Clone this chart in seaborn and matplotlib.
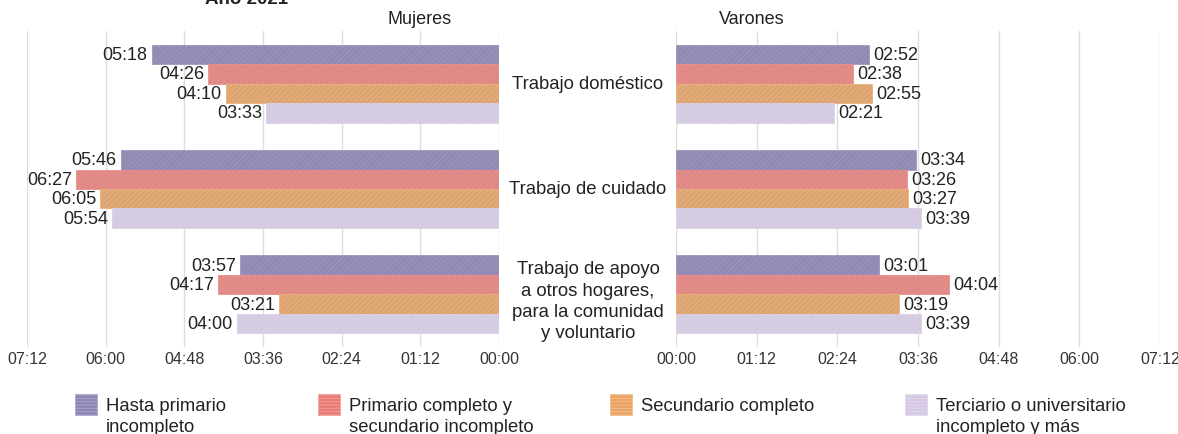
import matplotlib
matplotlib.use("Agg")
import matplotlib.pyplot as plt
from matplotlib.patches import Rectangle
import matplotlib.colors as mcolors
import pandas as pd
import seaborn as sns

# --- data -------------------------------------------------------------
categorias = ["Trabajo doméstico", "Trabajo de cuidado",
              "Trabajo de apoyo\na otros hogares,\npara la comunidad\ny voluntario"]
niveles = ["Hasta primario\nincompleto",
           "Primario completo y\nsecundario incompleto",
           "Secundario completo",
           "Terciario o universitario\nincompleto y más"]
# hh:mm per category, one list per education level
mujeres = {
    niveles[0]: ["05:18", "05:46", "03:57"],
    niveles[1]: ["04:26", "06:27", "04:17"],
    niveles[2]: ["04:10", "06:05", "03:21"],
    niveles[3]: ["03:33", "05:54", "04:00"],
}
varones = {
    niveles[0]: ["02:52", "03:34", "03:01"],
    niveles[1]: ["02:38", "03:26", "04:04"],
    niveles[2]: ["02:55", "03:27", "03:19"],
    niveles[3]: ["02:21", "03:39", "03:39"],
}
colores = ["#8e84b6", "#ec7b76", "#eba462", "#d4c8e4"]
tick_min = [0, 72, 144, 216, 288, 360, 432]


def a_minutos(s):
    h, m = s.split(":")
    return int(h) * 60 + int(m)


def a_hhmm(v):
    v = int(round(v))
    return f"{v // 60:02d}:{v % 60:02d}"


def tabla(d):
    filas = []
    for nivel, vals in d.items():
        for cat, v in zip(categorias, vals):
            filas.append({"categoria": cat, "nivel": nivel,
                          "minutos": a_minutos(v), "texto": v})
    return pd.DataFrame(filas)


df_m = tabla(mujeres)
df_v = tabla(varones)

# --- figure -----------------------------------------------------------
sns.set_style("whitegrid")
plt.rcParams["font.family"] = ["Liberation Sans", "DejaVu Sans"]
plt.rcParams["hatch.linewidth"] = 0.6

W, H = 1178, 435
fig = plt.figure(figsize=(W / 100, H / 100), dpi=100)
axL = fig.add_axes([27 / W, 1 - 348 / H, (499 - 27) / W, 316 / H])
axR = fig.add_axes([676 / W, 1 - 348 / H, (1160 - 676) / W, 316 / H])

pal = dict(zip(niveles, colores))


def lighter(c, f=0.25):
    r, g, b = mcolors.to_rgb(c)
    return (r + (1 - r) * f, g + (1 - g) * f, b + (1 - b) * f)


TXT = "#222222"
for ax, df, lim in ((axL, df_m, (432, 0)), (axR, df_v, (0, 432))):
    sns.barplot(data=df, y="categoria", x="minutos", hue="nivel",
                order=categorias, hue_order=niveles, palette=pal,
                orient="h", width=0.74, legend=False, ax=ax)
    ax.set_xlim(*lim)
    ax.set_ylim(2.5, -0.5)
    for cont, nivel, col in zip(ax.containers, niveles, colores):
        for p in cont:
            p.set_hatch("//////")
            p.set_edgecolor(lighter(col, 0.15))
            p.set_linewidth(0.6)
        textos = df[df.nivel == nivel].set_index("categoria").loc[categorias, "texto"]
        ax.bar_label(cont, labels=list(textos), padding=3, fontsize=13,
                     color=TXT)
    ax.set_xticks(tick_min)
    ax.set_xticklabels([a_hhmm(t) for t in tick_min], fontsize=11.5,
                       color="#333333")
    ax.set_yticks([])
    ax.set_xlabel("")
    ax.set_ylabel("")
    ax.grid(axis="x", color="#dedede", linewidth=1)
    ax.grid(axis="y", visible=False)
    ax.tick_params(axis="x", length=0, pad=3)
    for s in ax.spines.values():
        s.set_visible(False)

# category names between the two panels (long names sit a little lower)
for i, cat in enumerate(categorias):
    dy = -4.5 if "\n" in cat else 0
    axR.annotate(cat, xy=(588 / W, i), xycoords=("figure fraction", "data"),
                 xytext=(0, dy), textcoords="offset points",
                 ha="center", va="center", multialignment="center",
                 fontsize=13.3, color=TXT, linespacing=1.32,
                 annotation_clip=False)

fig.text(420 / W, 1 - 20 / H, "Mujeres", ha="center", va="center",
         fontsize=13, color=TXT)
fig.text(752 / W, 1 - 20 / H, "Varones", ha="center", va="center",
         fontsize=13, color=TXT)
fig.text(205 / W, 1 + 1 / H, "Año 2021", ha="left", va="center",
         fontsize=13.5, fontweight="bold", color=TXT)

# legend entries along the bottom: swatch aligned with the first text line
leg_x = [75, 318, 610, 905]
for x, nivel, col in zip(leg_x, niveles, colores):
    fig.patches.append(Rectangle((x / W, 1 - 416 / H), 22 / W, 21 / H,
                                 transform=fig.transFigure, facecolor=col,
                                 edgecolor=lighter(col, 0.3), hatch="-----",
                                 linewidth=0.6))
    fig.text((x + 31) / W, 1 - 398 / H, nivel, ha="left", va="top",
             fontsize=13.3, color=TXT, linespacing=1.3)

fig.savefig("out.png", dpi=100)
